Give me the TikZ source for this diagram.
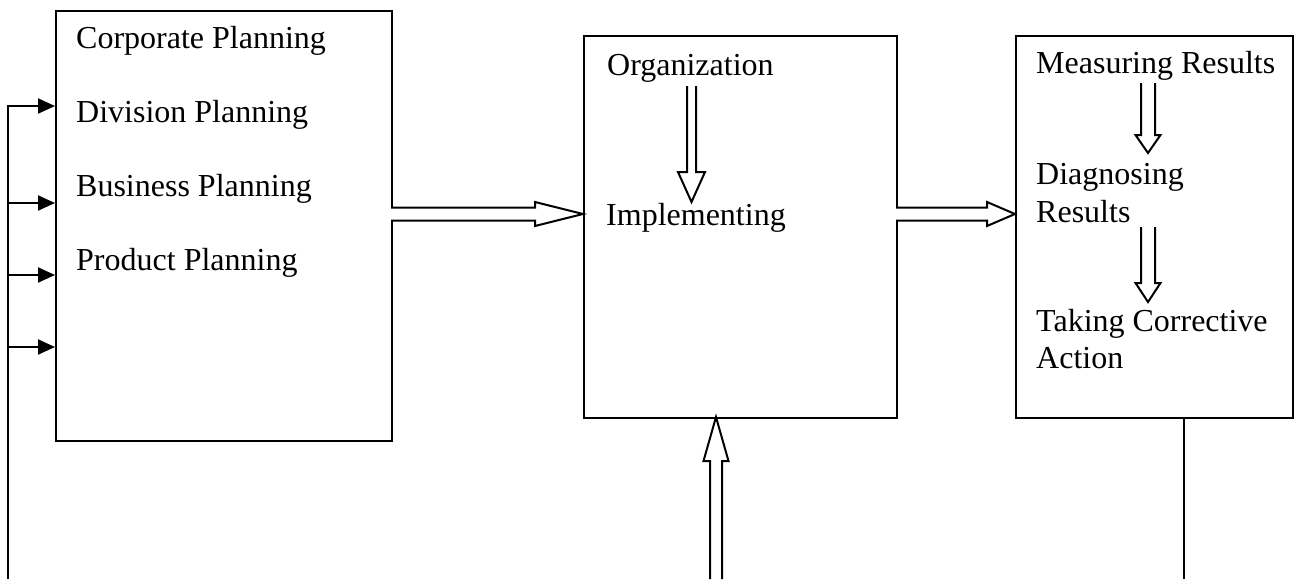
\documentclass[tikz,border=0pt]{standalone}
\usepackage{fontspec}
\setmainfont{Liberation Serif}
\usetikzlibrary{arrows.meta,calc}

% hollow block arrow: start point, angle, total length, head length,
% shaft half width, head half width (open at the tail)
\newcommand{\blockarrow}[6]{%
  \begin{scope}[shift={(#1)},rotate=#2]
    \draw[line width=2pt,line join=miter,fill=white]
      (0,#5) -- ({#3-#4},#5) -- ({#3-#4},#6) -- (#3,0)
      -- ({#3-#4},-#6) -- ({#3-#4},-#5) -- (0,-#5);
  \end{scope}}

\begin{document}
\begin{tikzpicture}[x=1pt,y=-1pt,
  box/.style={draw,line width=2pt,anchor=north west,inner sep=0pt},
  lbl/.style={anchor=base west,inner sep=0pt,font=\fontsize{32}{38}\selectfont},
  feed/.style={line width=2pt,-{Triangle[length=17pt,width=15pt]}},
  wire/.style={line width=2.2pt}]
\useasboundingbox (0,0) rectangle (1294,579);

% the three stage boxes
\node[box,minimum width=336pt,minimum height=430pt] (plan) at (55,10) {};
\node[box,minimum width=313pt,minimum height=382pt] (impl) at (583,35) {};
\node[box,minimum width=277pt,minimum height=382pt] (ctrl) at (1015,35) {};

% planning stage
\node[lbl] (corp) at (76,48)  {Corporate Planning};
\node[lbl] (divi) at (76,122) {Division Planning};
\node[lbl] (busi) at (76,196) {Business Planning};
\node[lbl] (prod) at (76,270) {Product Planning};

% implementation stage
\node[lbl] (org) at (607,75)  {Organization};
\node[lbl] (imp) at (606,225) {Implementing};

% control stage
\node[lbl] (meas) at (1036,73)  {Measuring Results};
\node[lbl] (diag) at (1036,184) {Diagnosing};
\node[lbl] (diag2) at (1036,222) {Results};
\node[lbl] (take) at (1036,331) {Taking Corrective};
\node[lbl] (act) at (1036,368) {Action};

% block arrows between and inside stages
\blockarrow{391,214}{0}{192}{48}{6.5}{12}
\blockarrow{896,214}{0}{119}{28}{6.5}{12}
\blockarrow{691.5,86}{-90}{116}{30}{4.5}{13.5}
\blockarrow{716,579}{90}{162}{44}{6}{12.5}
\blockarrow{1148,83}{-90}{70}{18}{7}{12.5}
\blockarrow{1148,227}{-90}{75}{19}{7}{12.5}

% feedback loop into the planning stage
\coordinate (fb0) at (8,579);
\coordinate (fb1) at (8,106);
\coordinate (fb2) at (8,203);
\coordinate (fb3) at (8,275);
\coordinate (fb4) at (8,347);
\draw[feed] (fb0) -- (fb1) -- (fb1 -| plan.west);
\draw[feed] (fb2) -- (fb2 -| plan.west);
\draw[feed] (fb3) -- (fb3 -| plan.west);
\draw[feed] (fb4) -- (fb4 -| plan.west);

% line leaving the control stage
\coordinate (out) at (1184,579);
\draw[wire] (out |- ctrl.south) -- (out);
\end{tikzpicture}
\end{document}
